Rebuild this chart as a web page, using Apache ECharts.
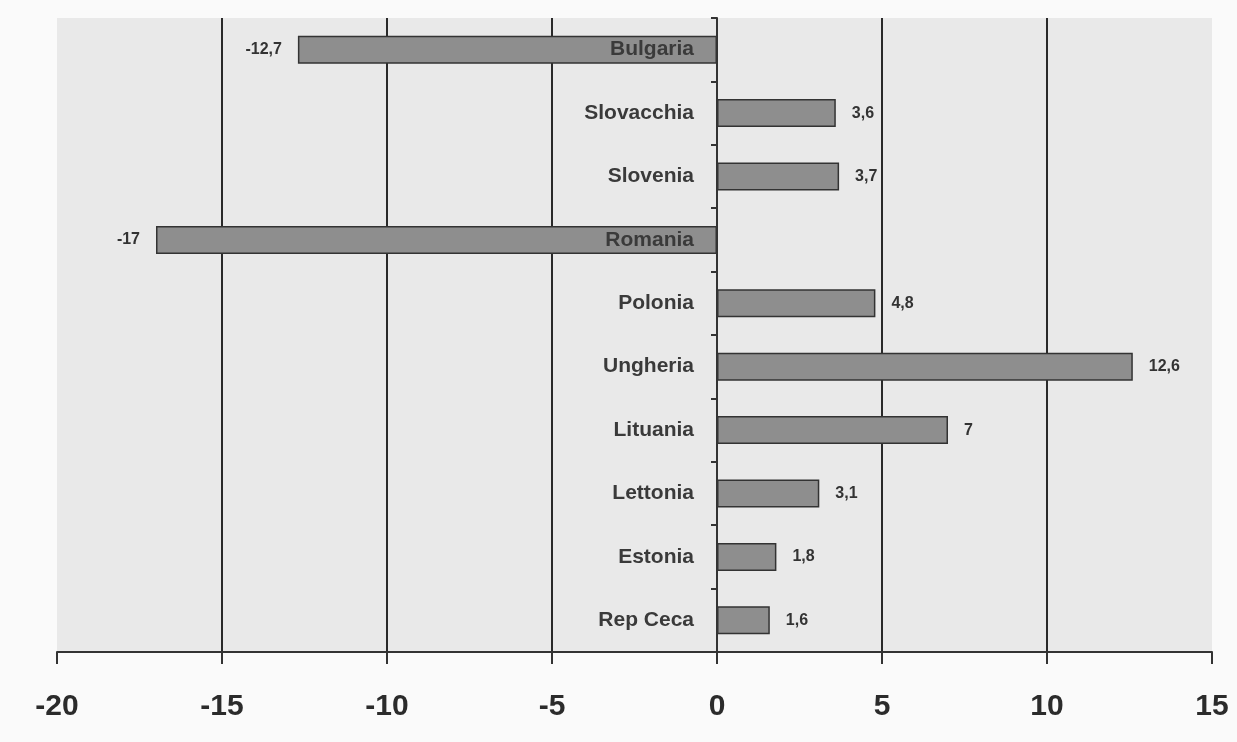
<!DOCTYPE html>
<html>
<head>
<meta charset="utf-8">
<script src="https://cdn.jsdelivr.net/npm/echarts@6/dist/echarts.min.js"></script>
<style>
  html, body { margin: 0; padding: 0; background: #fafafa; }
  #chart { width: 1237px; height: 742px; }
</style>
</head>
<body>
<div id="chart"></div>
<script>
const countries = ['Bulgaria', 'Slovacchia', 'Slovenia', 'Romania', 'Polonia', 'Ungheria', 'Lituania', 'Lettonia', 'Estonia', 'Rep Ceca'];
const values = [-12.7, 3.6, 3.7, -17, 4.8, 12.6, 7, 3.1, 1.8, 1.6];
const xTicks = { min: -20, max: 15, interval: 5 };

const myChart = echarts.init(document.getElementById('chart'));

// negative bars get their value on the left side
const barData = values.map(function (v) {
  return {
    value: v,
    label: { position: v < 0 ? 'left' : 'right' }
  };
});

// zero-length bars only used to put the country names next to the 0 line
const nameData = countries.map(function () { return 0; });

const option = {
  backgroundColor: '#fafafa',
  textStyle: { fontFamily: 'Liberation Sans, Arial, sans-serif' },
  grid: {
    left: 57,
    right: 25,
    top: 18,
    bottom: 90,
    containLabel: false,
    outerBoundsMode: 'none',
    show: true,
    backgroundColor: '#e9e9e9',
    borderWidth: 0
  },
  xAxis: {
    type: 'value',
    min: xTicks.min,
    max: xTicks.max,
    interval: xTicks.interval,
    axisLine: { show: true, lineStyle: { color: '#333', width: 2 } },
    axisTick: { show: true, length: 12, lineStyle: { color: '#333', width: 2 } },
    axisLabel: {
      fontSize: 30,
      fontWeight: 'bold',
      color: '#2b2b2b',
      margin: 40
    },
    splitLine: {
      show: true,
      showMinLine: false,
      showMaxLine: false,
      lineStyle: { color: '#2a2a2a', width: 2 }
    }
  },
  yAxis: {
    type: 'category',
    inverse: true,
    data: countries,
    axisLine: { show: true, onZero: true, lineStyle: { color: '#333', width: 2 } },
    axisTick: { show: true, length: 6, lineStyle: { color: '#333', width: 2 } },
    axisLabel: { show: false },
    splitLine: { show: false }
  },
  series: [
    {
      type: 'bar',
      data: barData,
      barWidth: 28,
      itemStyle: {
        color: '#8e8e8e',
        borderColor: '#333',
        borderWidth: 1.5
      },
      label: {
        show: true,
        fontSize: 16,
        fontWeight: 'bold',
        color: '#333',
        distance: 16,
        formatter: function (p) {
          return String(p.value).replace('.', ',');
        }
      },
      z: 2
    },
    {
      type: 'bar',
      data: nameData,
      barWidth: 28,
      barGap: '-100%',
      silent: true,
      itemStyle: { color: 'transparent', borderWidth: 0 },
      label: {
        show: true,
        position: 'left',
        distance: 23,
        fontSize: 21,
        fontWeight: 'bold',
        color: '#3a3a3a',
        formatter: function (p) { return p.name; }
      },
      z: 3
    }
  ]
};

myChart.setOption(option);
</script>
</body>
</html>
